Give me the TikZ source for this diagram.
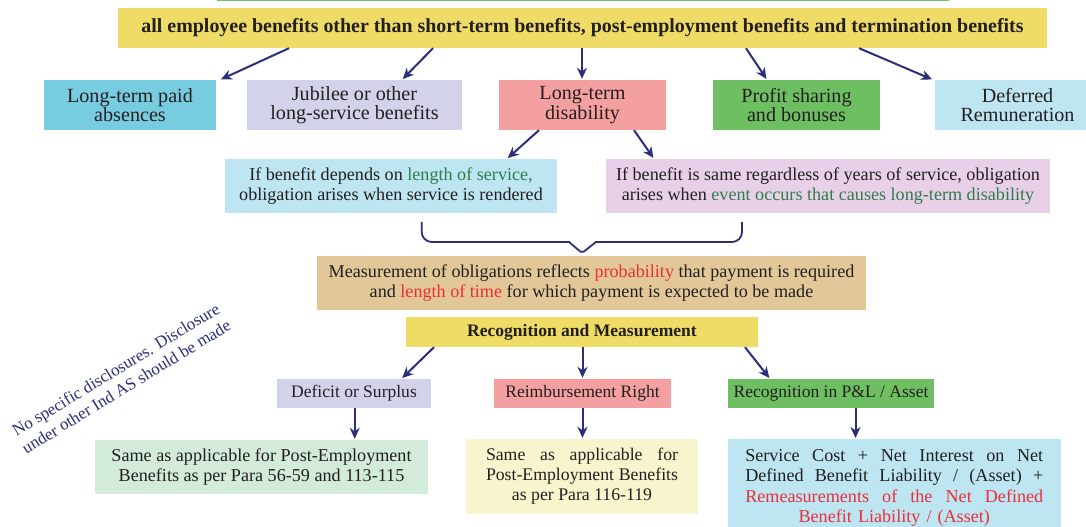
\documentclass[tikz,border=0pt]{standalone}
\usepackage{fontspec}
\setmainfont{Liberation Serif}
\usetikzlibrary{arrows.meta}
\definecolor{navy}{HTML}{2B2E7A}
\definecolor{titley}{HTML}{EEDC66}
\definecolor{cyanb}{HTML}{78CCE0}
\definecolor{lavb}{HTML}{D2D2EA}
\definecolor{pinkb}{HTML}{F4A0A0}
\definecolor{greenb}{HTML}{6EBF62}
\definecolor{lblue}{HTML}{BEE6F2}
\definecolor{lpink}{HTML}{E8D0E8}
\definecolor{tanb}{HTML}{E2C898}
\definecolor{lgreen}{HTML}{D2EBDA}
\definecolor{lyellow}{HTML}{F8F4CE}
\definecolor{gtext}{HTML}{2E7D4A}
\definecolor{rtext}{HTML}{EC2E3A}
\definecolor{toplinegreen}{HTML}{6EBF62}
\definecolor{bodytext}{HTML}{231F20}
\begin{document}
\begin{tikzpicture}[x=1bp,y=-1bp,
  box/.style={inner sep=0pt, align=center, text=bodytext,
    font=\fontsize{18.2}{20.3}\selectfont},
  bigbox/.style={box, font=\fontsize{20.2}{19.5}\selectfont},
  smallbox/.style={box, font=\fontsize{17.6}{20}\selectfont},
  arr/.style={navy, line width=2bp, shorten >=1bp,
    -{Stealth[length=11bp,width=10bp,inset=3.5bp]}}]
\useasboundingbox (0,0) rectangle (1086,527);
\fill[white] (0,0) rectangle (1086,527);
\draw[toplinegreen, line width=2bp] (216.7,0.5) -- (949,0.5);

% title
\node[box, fill=titley, minimum width=929bp, minimum height=40bp,
  font=\fontsize{20}{22}\selectfont\bfseries] (title) at (582.5,28)
  {all employee benefits other than short-term benefits, post-employment benefits and termination benefits};

% row 1
\node[bigbox, fill=cyanb, minimum width=172bp, minimum height=50bp] (lta) at (130,105) {Long-term paid\\absences};
\node[bigbox, fill=lavb, minimum width=215bp, minimum height=50bp] (jub) at (354.5,105) {Jubilee or other\\long-service benefits};
\node[bigbox, fill=pinkb, minimum width=167bp, minimum height=50bp] (ltd) at (582.5,105) {Long-term\\disability};
\node[bigbox, fill=greenb, minimum width=167bp, minimum height=50bp] (psb) at (796.5,105) {Profit sharing\\and bonuses};
\node[bigbox, fill=lblue, minimum width=165bp, minimum height=50bp] (dfr) at (1017.5,105) {Deferred\\Remuneration};

% row 2
\node[box, fill=lblue, minimum width=332bp, minimum height=54bp] (dep) at (391,186)
  {If benefit depends on \textcolor{gtext}{length of service,}\\obligation arises when service is rendered};
\node[box, fill=lpink, minimum width=444bp, minimum height=54bp] (same) at (828,186)
  {If benefit is same regardless of years of service, obligation\\arises when \textcolor{gtext}{event occurs that causes long-term disability}};

% brace
\draw[navy, line width=1.8bp, rounded corners=10bp]
  (421.7,222) -- (421.7,242) -- (570,242);
\draw[navy, line width=1.8bp, rounded corners=10bp]
  (595,242) -- (742,242) -- (742,222);
\draw[navy, line width=1.8bp, line join=round, rounded corners=2bp]
  (569,242) -- (582,253) -- (596,242);

% measurement
\node[box, fill=tanb, minimum width=549bp, minimum height=54bp] (meas) at (591.5,283)
  {Measurement of obligations reflects \textcolor{rtext}{probability} that payment is required\\and \textcolor{rtext}{length of time} for which payment is expected to be made};

\node[box, fill=titley, minimum width=352bp, minimum height=30bp,
  font=\fontsize{17.6}{20}\selectfont\bfseries] (rec) at (582,332) {Recognition and Measurement};

% row 3
\node[smallbox, fill=lavb, minimum width=154bp, minimum height=29bp] (dos) at (354,393.5) {Deficit or Surplus};
\node[smallbox, fill=pinkb, minimum width=177bp, minimum height=29bp] (rr) at (582.5,393.5) {Reimbursement Right};
\node[smallbox, fill=greenb, minimum width=206.5bp, minimum height=29bp] (rpl) at (831,393.5) {Recognition in P\&L / Asset};

% row 4
\node[box, fill=lgreen, minimum width=333bp, minimum height=54bp] (g4) at (261.5,467)
  {Same as applicable for Post-Employment\\Benefits as per Para 56-59 and 113-115};
\node[box, fill=lyellow, minimum width=232bp, minimum height=75bp,
  font=\fontsize{17.8}{20.2}\selectfont] (y4) at (582,476.5)
  {\makebox[192bp]{Same\hfill as\hfill applicable\hfill for}\\
   \makebox[192bp]{Post-Employment\hfill Benefits}\\
   as per Para 116-119};
\node[box, fill=lblue, minimum width=332.5bp, text width=298bp, anchor=north,
  inner ysep=10.5bp, align=center] (b4) at (894.25,439)
  {\makebox[298bp]{Service\hfill Cost\hfill +\hfill Net\hfill Interest\hfill on\hfill Net}\\
   \makebox[298bp]{Defined\hfill Benefit\hfill Liability\hfill /\hfill (Asset)\hfill +}\\
   \makebox[298bp]{\color{rtext}Remeasurements\hfill of\hfill the\hfill Net\hfill Defined}\\
   \textcolor{rtext}{Benefit Liability / (Asset)}};

% rotated note
\node[navy, align=center, rotate=31.4, font=\fontsize{17}{20}\selectfont] (note) at (121,378)
  {No specific disclosures. Disclosure\\under other Ind AS should be made};

% arrows
\draw[arr] (title.south -| 289,0) -- (lta.north -| 220,0);
\draw[arr] (title.south -| 433,0) -- (jub.north -| 402,0);
\draw[arr] (title.south -| 582,0) -- (ltd.north -| 582,0);
\draw[arr] (title.south -| 746,0) -- (psb.north -| 767,0);
\draw[arr] (title.south -| 859,0) -- (dfr.north -| 933,0);
\draw[arr] (ltd.south -| 539,0) -- (dep.north -| 507,0);
\draw[arr] (ltd.south -| 634,0) -- (same.north -| 654,0);
\draw[arr] (rec.south -| 434,0) -- (dos.north -| 401.5,0);
\draw[arr] (rec.south -| 582.5,0) -- (rr.north -| 582.5,0);
\draw[arr] (rec.south -| 745,0) -- (rpl.north -| 770,0);
\draw[arr] (dos.south -| 354.7,0) -- (g4.north -| 354.7,0);
\draw[arr] (rr.south -| 582.5,0) -- (y4.north -| 582.5,0);
\draw[arr] (rpl.south -| 855.5,0) -- (b4.north -| 855.5,0);
\end{tikzpicture}
\end{document}
